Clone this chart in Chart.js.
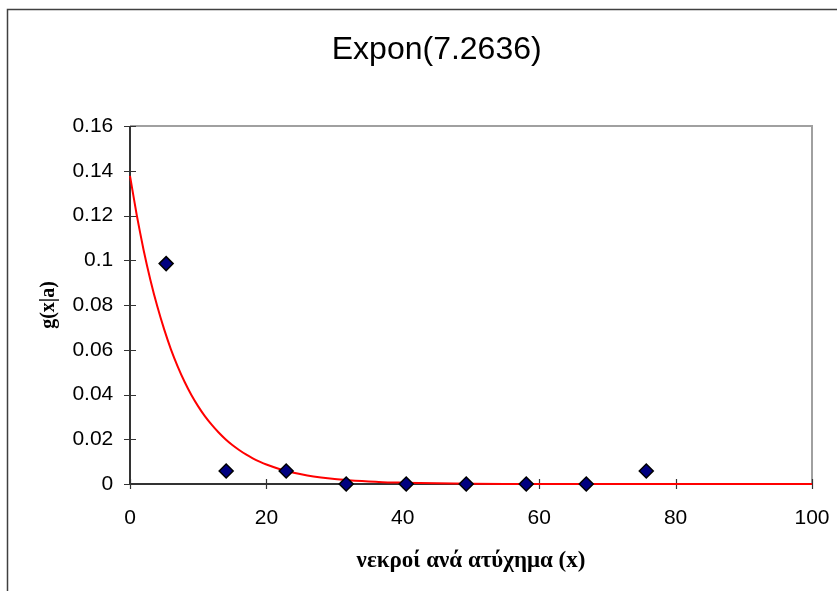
<!DOCTYPE html>
<html>
<head>
<meta charset="utf-8">
<script src="https://cdn.jsdelivr.net/npm/chart.js@4/dist/chart.umd.min.js"></script>
<style>
  html, body { margin: 0; padding: 0; background: #ffffff; }
  #wrap { position: relative; width: 837px; height: 591px; }
</style>
</head>
<body>
<div id="wrap"><canvas id="c" width="837" height="591"></canvas></div>
<script>
// Observed frequencies of deaths per accident (bin midpoints and density)
const binX = [5.3, 14.1, 22.9, 31.7, 40.5, 49.3, 58.1, 66.9, 75.7];
const binY = [0.0985, 0.0058, 0.0058, 0, 0, 0, 0, 0, 0.0058];

// Fitted exponential density curve
const curveX = [0, 1, 2, 3, 4, 5, 6, 7, 8, 9, 10, 11, 12, 13, 14, 15, 16, 17, 18, 19, 20,
                22, 24, 26, 28, 30, 32, 34, 36, 38, 40, 45, 50, 60, 100];
const curveY = [0.1377, 0.1200, 0.1045, 0.0911, 0.0794, 0.0692, 0.0602, 0.0525, 0.0457, 0.0398,
                0.0347, 0.0302, 0.0264, 0.0230, 0.0200, 0.0174, 0.0152, 0.0132, 0.0115, 0.0100,
                0.0087, 0.0066, 0.0050, 0.0038, 0.0029, 0.0022, 0.0017, 0.0013, 0.0010, 0.0007,
                0.0006, 0.0003, 0.0001, 0.0000, 0.0000];

const xTicks = [0, 20, 40, 60, 80, 100];
const yTicks = [0, 0.02, 0.04, 0.06, 0.08, 0.1, 0.12, 0.14, 0.16];

const titleText = 'Expon(7.2636)';
const xTitle = 'νεκροί ανά ατύχημα (x)';
const yTitle = 'g(x|a)';

const toPoints = (xs, ys) => xs.map((x, i) => ({ x: x, y: ys[i] }));

// Outer chart frame plus plot-area border, axes and cross ticks
const framePlugin = {
  id: 'frame',
  beforeDraw(chart) {
    const ctx = chart.ctx;
    ctx.save();
    ctx.fillStyle = '#ffffff';
    ctx.fillRect(0, 0, chart.width, chart.height);
    ctx.strokeStyle = '#404040';
    ctx.lineWidth = 1.5;
    ctx.beginPath();
    ctx.moveTo(7.5, chart.height);
    ctx.lineTo(7.5, 9.5);
    ctx.lineTo(chart.width, 9.5);
    ctx.stroke();
    ctx.restore();
  },
  beforeDatasetsDraw(chart) {
    const ctx = chart.ctx;
    const a = chart.chartArea;
    const xs = chart.scales.x, ys = chart.scales.y;
    ctx.save();
    ctx.lineWidth = 2;
    ctx.strokeStyle = '#a0a0a0';
    ctx.beginPath();
    ctx.moveTo(a.left, a.top);
    ctx.lineTo(a.right, a.top);
    ctx.lineTo(a.right, a.bottom);
    ctx.stroke();
    ctx.strokeStyle = '#333333';
    ctx.beginPath();
    ctx.moveTo(a.left, a.top);
    ctx.lineTo(a.left, a.bottom);
    ctx.lineTo(a.right, a.bottom);
    ctx.stroke();
    ctx.lineWidth = 1.2;
    ctx.beginPath();
    yTicks.forEach(v => {
      const p = Math.round(ys.getPixelForValue(v)) + 0.5;
      ctx.moveTo(a.left - 6, p);
      ctx.lineTo(a.left + 6, p);
    });
    xTicks.forEach(v => {
      const p = Math.round(xs.getPixelForValue(v)) + 0.5;
      ctx.moveTo(p, a.bottom - 5);
      ctx.lineTo(p, a.bottom + 5);
    });
    ctx.stroke();
    ctx.restore();
  }
};

new Chart(document.getElementById('c'), {
  type: 'scatter',
  data: {
    datasets: [
      {
        label: 'observed',
        data: toPoints(binX, binY),
        pointStyle: 'rectRot',
        pointRadius: 7,
        pointHoverRadius: 7,
        backgroundColor: '#000080',
        borderColor: '#000000',
        borderWidth: 1.5,
        showLine: false,
        clip: false
      },
      {
        label: 'fitted',
        data: toPoints(curveX, curveY),
        showLine: true,
        borderColor: '#ff0000',
        borderWidth: 2,
        pointRadius: 0,
        tension: 0.2,
        fill: false,
        clip: false
      }
    ]
  },
  plugins: [framePlugin],
  options: {
    responsive: false,
    animation: false,
    events: [],
    layout: { padding: { left: 61.4, right: 25, top: 0, bottom: 0 } },
    plugins: {
      legend: { display: false },
      tooltip: { enabled: false },
      title: {
        display: true,
        text: titleText,
        color: '#000000',
        font: { family: 'Liberation Sans, Arial, sans-serif', size: 32, weight: 'normal', lineHeight: 1.2 },
        padding: { top: 30.6, bottom: 57 }
      }
    },
    scales: {
      x: {
        type: 'linear',
        min: 0,
        max: 100,
        afterFit(s) { s.height = 107; s.paddingLeft = 0; s.paddingRight = 0; },
        afterBuildTicks(s) { s.ticks = xTicks.map(v => ({ value: v })); },
        grid: { display: false, drawTicks: false },
        border: { display: false },
        ticks: {
          padding: 22,
          color: '#000000',
          font: { family: 'Liberation Sans, Arial, sans-serif', size: 21 },
          callback: v => String(v)
        },
        title: {
          display: true,
          text: xTitle,
          color: '#000000',
          font: { family: 'Liberation Serif, Times New Roman, serif', size: 23, weight: 'bold', lineHeight: 1.2 },
          padding: { top: 0, bottom: 16 }
        }
      },
      y: {
        type: 'linear',
        min: 0,
        max: 0.16,
        afterFit(s) { s.width = 68.6; s.paddingTop = 0; s.paddingBottom = 0; },
        afterBuildTicks(s) { s.ticks = yTicks.map(v => ({ value: v })); },
        grid: { display: false, drawTicks: false },
        border: { display: false },
        ticks: {
          padding: 16.7,
          color: '#000000',
          font: { family: 'Liberation Sans, Arial, sans-serif', size: 21 },
          callback: v => String(+v.toFixed(2))
        },
        title: {
          display: true,
          text: yTitle,
          color: '#000000',
          font: { family: 'Liberation Serif, Times New Roman, serif', size: 20, weight: 'bold', lineHeight: 1.2 },
          padding: { top: -24.4, bottom: 0 }
        }
      }
    }
  }
});
</script>
</body>
</html>
